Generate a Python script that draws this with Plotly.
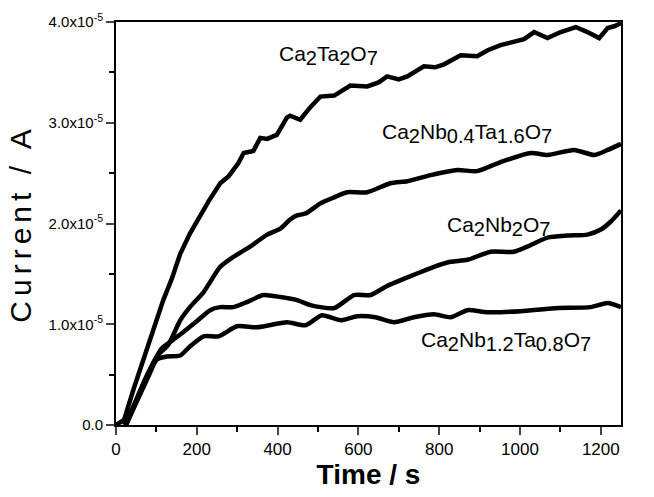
import plotly.graph_objects as go

# Data (current in units of 1e-5 A)
t_ta2 = [0, 20, 43, 68, 93, 117, 138, 159, 183, 204, 229, 258, 279, 303, 316, 340, 357, 374, 398, 423, 431, 456, 480, 506, 540, 580, 622, 650, 671, 700, 721, 762, 790, 812, 853, 894, 920, 952, 985, 1010, 1035, 1068, 1101, 1138, 1167, 1196, 1217, 1235, 1250]
i_ta2 = [0, 0.05, 0.35, 0.65, 0.94, 1.24, 1.45, 1.70, 1.90, 2.05, 2.22, 2.40, 2.47, 2.60, 2.70, 2.72, 2.85, 2.84, 2.88, 3.05, 3.07, 3.03, 3.15, 3.26, 3.27, 3.37, 3.36, 3.40, 3.46, 3.43, 3.46, 3.56, 3.55, 3.58, 3.67, 3.66, 3.72, 3.77, 3.81, 3.83, 3.90, 3.84, 3.90, 3.95, 3.90, 3.84, 3.94, 3.96, 3.99]

t_nb04 = [20, 45, 68, 101, 130, 159, 183, 217, 258, 291, 332, 374, 407, 431, 448, 470, 506, 540, 572, 622, 679, 721, 779, 845, 894, 952, 1027, 1068, 1134, 1184, 1217, 1250]
i_nb04 = [0, 0.2, 0.41, 0.68, 0.80, 1.04, 1.17, 1.32, 1.57, 1.67, 1.77, 1.89, 1.95, 2.04, 2.08, 2.10, 2.20, 2.26, 2.31, 2.31, 2.40, 2.42, 2.48, 2.53, 2.52, 2.61, 2.70, 2.68, 2.73, 2.68, 2.73, 2.79]

t_nb2 = [25, 50, 80, 113, 126, 163, 200, 233, 258, 291, 324, 365, 407, 448, 481, 540, 589, 630, 671, 737, 787, 828, 870, 927, 985, 1018, 1068, 1117, 1167, 1200, 1225, 1250]
i_nb2 = [0, 0.25, 0.52, 0.76, 0.80, 0.91, 1.03, 1.14, 1.17, 1.17, 1.22, 1.29, 1.27, 1.24, 1.19, 1.16, 1.29, 1.29, 1.38, 1.49, 1.57, 1.62, 1.64, 1.72, 1.72, 1.77, 1.86, 1.88, 1.89, 1.94, 2.02, 2.13]

t_nb12 = [25, 50, 80, 101, 126, 159, 183, 217, 254, 299, 349, 423, 469, 510, 556, 597, 642, 688, 737, 787, 828, 870, 919, 1002, 1085, 1175, 1217, 1250]
i_nb12 = [0, 0.22, 0.48, 0.65, 0.68, 0.69, 0.78, 0.88, 0.88, 0.98, 0.97, 1.02, 0.99, 1.09, 1.04, 1.08, 1.07, 1.02, 1.07, 1.10, 1.07, 1.14, 1.12, 1.13, 1.16, 1.17, 1.21, 1.17]

y_tickvals = [0, 1, 2, 3, 4]
y_ticktext = ["0.0", "1.0x10<sup>-5</sup>", "2.0x10<sup>-5</sup>", "3.0x10<sup>-5</sup>", "4.0x10<sup>-5</sup>"]
x_tickvals = [0, 200, 400, 600, 800, 1000, 1200]


def sub(s):
    return '<sub><span style="font-size:20px">' + s + '</span></sub>'


labels = [
    ("Ca" + sub("2") + "Ta" + sub("2") + "O" + sub("7"), 526, 3.67),
    ("Ca" + sub("2") + "Nb" + sub("0.4") + "Ta" + sub("1.6") + "O" + sub("7"), 868, 2.89),
    ("Ca" + sub("2") + "Nb" + sub("2") + "O" + sub("7"), 947, 1.97),
    ("Ca" + sub("2") + "Nb" + sub("1.2") + "Ta" + sub("0.8") + "O" + sub("7"), 965, 0.83),
]

fig = go.Figure()
fig.add_trace(go.Scatter(x=t_ta2, y=i_ta2, mode="lines", line=dict(color="black", width=4.5)))
for tx, iy in [(t_nb04, i_nb04), (t_nb2, i_nb2), (t_nb12, i_nb12)]:
    fig.add_trace(go.Scatter(x=tx, y=iy, mode="lines",
                             line=dict(color="black", width=4.5, shape="spline", smoothing=0.6)))

FONT = "Liberation Sans, Arial, sans-serif"
for txt, x, y in labels:
    fig.add_annotation(x=x, y=y, text=txt, showarrow=False,
                       font=dict(family=FONT, size=21, color="black"))

fig.update_layout(
    width=654, height=497,
    margin=dict(l=116, r=33, t=22, b=72),
    plot_bgcolor="white", paper_bgcolor="white",
    showlegend=False,
    font=dict(family=FONT, color="black"),
)
fig.update_xaxes(
    range=[0, 1250], tickvals=x_tickvals, ticks="outside", ticklen=8, tickwidth=2,
    showline=True, linewidth=2, linecolor="black", mirror=True, showgrid=False, zeroline=False,
    tickfont=dict(size=17), minor=dict(ticks="outside", dtick=100, ticklen=5, tickwidth=2, tickcolor="black"),
    title=dict(text="<b>Time / s</b>", font=dict(size=28), standoff=6),
)
fig.update_yaxes(
    range=[0, 4], tickvals=y_tickvals, ticktext=y_ticktext, ticks="outside", ticklen=8, tickwidth=2,
    showline=True, linewidth=2, linecolor="black", mirror=True, showgrid=False, zeroline=False,
    tickfont=dict(size=15), minor=dict(ticks="outside", dtick=0.5, ticklen=5, tickwidth=2, tickcolor="black"),
    title=dict(text='<span style="letter-spacing:5px">Current / A</span>', font=dict(size=30), standoff=8),
)

fig.write_html("out.html", config={"displayModeBar": False},
               post_script="document.body.style.margin='0px';")
